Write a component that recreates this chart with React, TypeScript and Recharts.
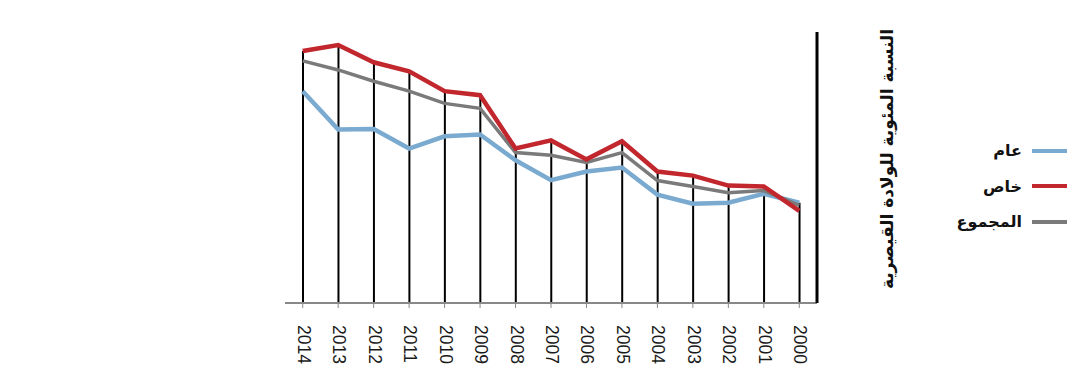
import React from 'react';
import {Bar, ComposedChart, Line, XAxis, YAxis} from 'recharts';

// years run right-to-left in the original, so listed in display order
const years = ['2014', '2013', '2012', '2011', '2010', '2009', '2008', '2007', '2006', '2005', '2004', '2003', '2002', '2001', '2000'];
const publicRate = [46.9, 38.4, 38.5, 34.2, 36.9, 37.3, 31.6, 27.2, 29.1, 30.0, 24.0, 22.0, 22.2, 24.2, 22.2];
const privateRate = [55.8, 57.1, 53.3, 51.3, 46.9, 46.0, 34.2, 36.0, 31.8, 35.8, 29.1, 28.2, 26.0, 25.8, 20.4];
const totalRate = [53.6, 51.6, 49.1, 46.9, 44.2, 43.1, 33.3, 32.7, 31.1, 33.3, 27.1, 25.8, 24.4, 24.9, 21.6];

const seriesNames = ['عام', 'خاص', 'المجموع'];
const seriesColors = ['#7aaacf', '#c1272d', '#7a7a7a'];
const yTitle = 'النسبة المئوية للولادة القيصرية';

const data = years.map((year, i) => ({
    year,
    public: publicRate[i],
    private: privateRate[i],
    total: totalRate[i],
    top: Math.max(publicRate[i], privateRate[i], totalRate[i]),
}));

const DropLine = (props: any) => {
    const {x, y, width, height} = props;
    const cx = x + width / 2;
    return <line x1={cx} y1={y} x2={cx} y2={y + height} stroke="#000" strokeWidth={2}/>;
};

const YearTick = (props: any) => {
    const {x, payload} = props;
    const ty = 325;
    return (
        <text x={x + 1} y={ty} transform={`rotate(90 ${x + 1} ${ty})`} textAnchor="start" dominantBaseline="central"
              fontSize={17.5} fontFamily="'Liberation Sans', Arial, sans-serif" fill="#1a1a1a">
            {payload.value}
        </text>
    );
};

const YTitle = (props: any) => {
    const {viewBox} = props;
    const x = viewBox.x + 70;
    const y = 159;
    return (
        <text x={x} y={y} transform={`rotate(-90 ${x} ${y})`} textAnchor="middle" dominantBaseline="central"
              fontSize={17} fontWeight="bold" fontFamily="'DejaVu Sans', sans-serif" fill="#111">
            {yTitle}
        </text>
    );
};

const LegendBox = () => (
    <div style={{position: 'absolute', left: 900, top: 133, width: 167, fontFamily: "'DejaVu Sans', sans-serif",
        fontWeight: 'bold', fontSize: 16, color: '#111'}}>
        {seriesNames.map((name, i) => (
            <div key={name} style={{display: 'flex', alignItems: 'center', justifyContent: 'flex-end', height: 35.5}}>
                <span style={{direction: 'rtl'}}>{name}</span>
                <span style={{display: 'inline-block', width: 35, height: 4, background: seriesColors[i], marginLeft: 10}}/>
            </div>
        ))}
    </div>
);

export default function App() {
    return (
        <div style={{position: 'absolute', left: 0, top: 0, width: 1081, height: 378, background: '#fff'}}>
            <ComposedChart width={1081} height={378} data={data}
                           margin={{top: 32, right: 263, left: 285, bottom: 74}}>
                <XAxis dataKey="year" tick={<YearTick/>} tickSize={5} interval={0} height={1}
                       axisLine={{stroke: '#888', strokeWidth: 2}} tickLine={{stroke: '#888'}}/>
                <YAxis orientation="right" domain={[0, 60]} width={1} tick={false} tickLine={false}
                       axisLine={{stroke: '#000', strokeWidth: 3}} label={<YTitle/>}/>
                <Bar dataKey="top" shape={<DropLine/>} barSize={2} isAnimationActive={false} legendType="none"/>
                <Line dataKey="public" name={seriesNames[0]} stroke={seriesColors[0]} strokeWidth={4.5}
                      dot={false} activeDot={false} isAnimationActive={false}/>
                <Line dataKey="total" name={seriesNames[2]} stroke={seriesColors[2]} strokeWidth={3.5}
                      dot={false} activeDot={false} isAnimationActive={false}/>
                <Line dataKey="private" name={seriesNames[1]} stroke={seriesColors[1]} strokeWidth={4.5}
                      dot={false} activeDot={false} isAnimationActive={false}/>
            </ComposedChart>
            <LegendBox/>
        </div>
    );
}
